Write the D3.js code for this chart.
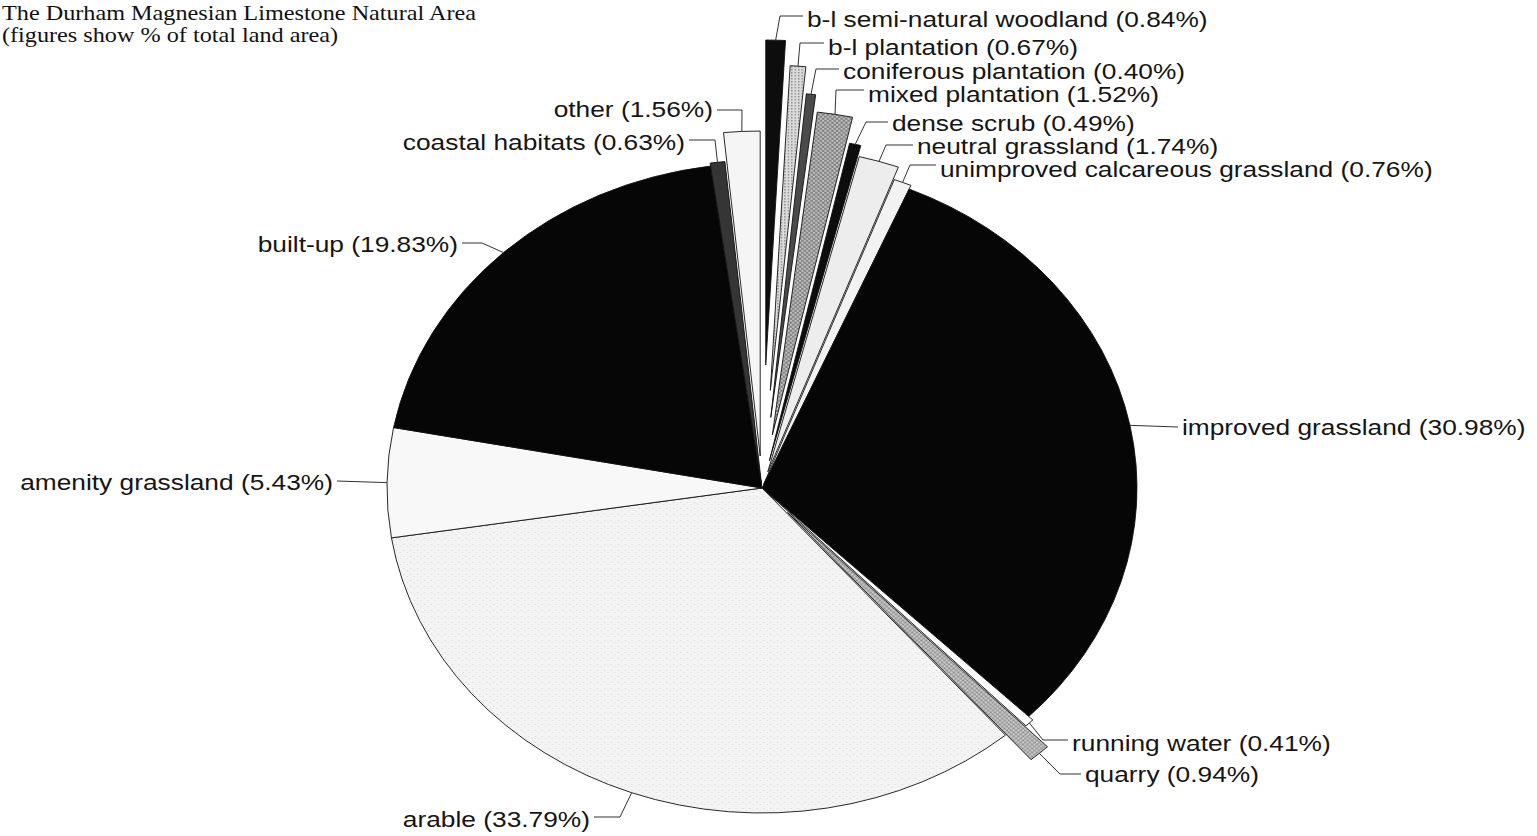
<!DOCTYPE html>
<html><head><meta charset="utf-8">
<script src="https://cdn.jsdelivr.net/npm/d3@7"></script>
<style>html,body{margin:0;padding:0;background:#fff;overflow:hidden}</style>
</head><body>
<svg id="chart" width="1537" height="836"></svg>
<script>
// ---- data ----
const categories = ["b-l semi-natural woodland","b-l plantation","coniferous plantation","mixed plantation","dense scrub","neutral grassland","unimproved calcareous grassland","improved grassland","running water","quarry","arable","amenity grassland","built-up","coastal habitats","other"];
const values = [0.84,0.67,0.40,1.52,0.49,1.74,0.76,30.98,0.41,0.94,33.79,5.43,19.83,0.63,1.56];
const titleLines = ["The Durham Magnesian Limestone Natural Area","(figures show % of total land area)"];

// ---- layout / style ----
const W = 1537, H = 836;
const SX = 1.1538;              // horizontal stretch of the scanned figure
const cx = 762 / SX, cy = 488, R = 325;
const explode = [123,98,71,54,28,17,4,0,5,33,0,0,0,3,32];
const fills = ["#0d0d0d","url(#dots)","#4a4a4a","url(#hatch)","#0d0d0d","#ededed","#f2f2f2","#060606","#ffffff","url(#hatch2)","url(#speck)","#f8f8f8","#060606","#353535","#f5f5f5"];
// label layout in screen px: side, text x (start for r, end for l), baseline y, leader y, elbow x
const labelLayout = [
  ["r",807,27,16,780],
  ["r",828,55,43,800],
  ["r",843,79,69,816],
  ["r",868,102,90,836],
  ["r",892,131,122,866],
  ["r",917,154,145,886],
  ["r",940,177,165,910],
  ["r",1182,435,427,null],
  ["r",1072,751,740,1043],
  ["r",1085,782,774,1060],
  ["l",590,827,817,620],
  ["l",333,490,481,null],
  ["l",458,252,243,482],
  ["l",685,150,140,715],
  ["l",713,117,110,742]
];

const data = categories.map((c,i)=>({name:c, value:values[i], i}));
const svg = d3.select("#chart");
const defs = svg.append("defs");
// textures (tone approximations of the scanned fills)
const p1 = defs.append("pattern").attr("id","dots").attr("patternUnits","userSpaceOnUse").attr("width",3).attr("height",3);
p1.append("rect").attr("width",3).attr("height",3).attr("fill","#dcdcdc");
p1.append("rect").attr("width",1.2).attr("height",1.2).attr("fill","#777");
const p2 = defs.append("pattern").attr("id","hatch").attr("patternUnits","userSpaceOnUse").attr("width",4).attr("height",4);
p2.append("rect").attr("width",4).attr("height",4).attr("fill","#c4c4c4");
p2.append("path").attr("d","M0,0L4,4M4,0L0,4").attr("stroke","#666").attr("stroke-width",0.8);
const p3 = defs.append("pattern").attr("id","hatch2").attr("patternUnits","userSpaceOnUse").attr("width",4).attr("height",4);
p3.append("rect").attr("width",4).attr("height",4).attr("fill","#cfcfcf");
p3.append("path").attr("d","M0,0L4,4M4,0L0,4").attr("stroke","#777").attr("stroke-width",0.7);
const p4 = defs.append("pattern").attr("id","speck").attr("patternUnits","userSpaceOnUse").attr("width",6).attr("height",6);
p4.append("rect").attr("width",6).attr("height",6).attr("fill","#f4f4f4");
p4.append("rect").attr("x",1).attr("y",2).attr("width",1).attr("height",1).attr("fill","#d6d6d6");
p4.append("rect").attr("x",4).attr("y",4).attr("width",1).attr("height",1).attr("fill","#dcdcdc");

const root = svg.append("g").attr("transform",`scale(${SX},1)`);

// title
root.append("g").selectAll("text").data(titleLines).join("text")
  .attr("x",2/SX)
  .attr("y",(d,i)=> i===0 ? 20 : 42)
  .attr("font-family","'Liberation Serif','Times New Roman',serif")
  .attr("font-size",21).attr("fill","#111").text(d=>d);

const pie = d3.pie().sort(null).value(d=>d.value).startAngle(0).endAngle(2*Math.PI);
const arcs = pie(data);
const arc = d3.arc().innerRadius(0).outerRadius(R);
const mid = a => (a.startAngle + a.endAngle)/2;

const gPie = root.append("g").attr("transform",`translate(${cx},${cy})`);
gPie.selectAll("path").data(arcs).join("path")
  .attr("d",arc)
  .attr("transform",a=>{const d=explode[a.data.i], m=mid(a);return `translate(${d*Math.sin(m)},${-d*Math.cos(m)})`;})
  .attr("fill",a=>fills[a.data.i])
  .attr("stroke","#111").attr("stroke-width",0.9)
  .attr("vector-effect","non-scaling-stroke")
  .attr("stroke-linejoin","round");

// labels + leaders
const fmt = v => `(${v.toFixed(2)}%)`;
const gLab = root.append("g");
arcs.forEach(a=>{
  const i=a.data.i, L=labelLayout[i], m=mid(a), rr=R+explode[i];
  const tgt=[cx+rr*Math.sin(m), cy-rr*Math.cos(m)];
  const side=L[0], tx=L[1]/SX, ty=L[2], ly=L[3];
  const sx0 = side==="r" ? tx-4/SX : tx+4/SX;
  const pts = [[sx0,ly]];
  if(L[4]!==null) pts.push([L[4]/SX,ly]);
  pts.push(tgt);
  gLab.append("path").attr("d",d3.line()(pts))
    .attr("fill","none").attr("stroke","#333").attr("stroke-width",1)
    .attr("vector-effect","non-scaling-stroke");
  gLab.append("text").attr("x",tx).attr("y",ty)
    .attr("text-anchor",side==="r"?"start":"end")
    .attr("font-family","'Liberation Sans',Arial,sans-serif")
    .attr("font-size",22.8).attr("fill","#151515")
    .text(`${a.data.name} ${fmt(a.data.value)}`);
});
</script>
</body></html>
